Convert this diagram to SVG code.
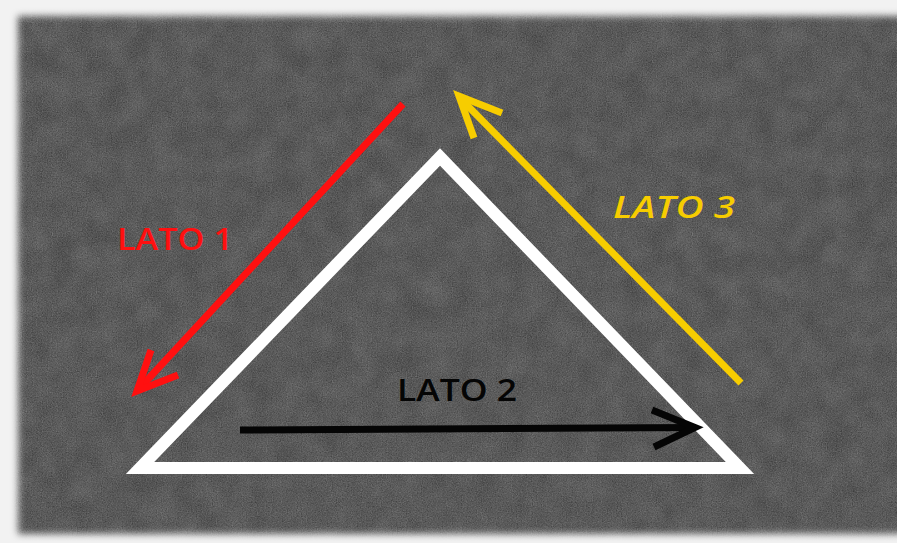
<svg xmlns="http://www.w3.org/2000/svg" width="897" height="543" viewBox="0 0 897 543">
  <style>
    .lbl { font-family: "Open Sans", "DejaVu Sans", sans-serif; font-weight: 600; font-size: 31px; }
    .arrow { fill: none; stroke-width: 7; stroke-linecap: butt; stroke-linejoin: miter; }
    filter { color-interpolation-filters: sRGB; }
  </style>
  <defs>
    <filter id="blur" x="-10%" y="-10%" width="120%" height="120%">
      <feGaussianBlur stdDeviation="3.5"/>
    </filter>
    <mask id="panelMask" maskUnits="userSpaceOnUse" x="0" y="0" width="897" height="543">
      <rect x="18" y="16" width="900" height="518" fill="#fff" filter="url(#blur)"/>
    </mask>
    <filter id="grain" x="0" y="0" width="897" height="543" filterUnits="userSpaceOnUse" color-interpolation-filters="sRGB">
      <feTurbulence type="fractalNoise" baseFrequency="0.8" numOctaves="2" seed="7" result="t"/>
      <feColorMatrix in="t" type="matrix" values="0.6 0.6 0 0 -0.28  0.6 0.6 0 0 -0.28  0.6 0.6 0 0 -0.28  0 0 0 0 0.28"/>
    </filter>
    <filter id="mottle" x="0" y="0" width="897" height="543" filterUnits="userSpaceOnUse" color-interpolation-filters="sRGB">
      <feTurbulence type="fractalNoise" baseFrequency="0.04" numOctaves="3" seed="2" result="t"/>
      <feColorMatrix in="t" type="matrix" values="0.6 0.6 0 0 -0.3  0.6 0.6 0 0 -0.3  0.6 0.6 0 0 -0.3  0 0 0 0 0.14"/>
    </filter>
  </defs>

  <rect x="0" y="0" width="897" height="543" fill="#f2f2f2"/>
  <g id="panel" mask="url(#panelMask)">
    <rect x="0" y="0" width="897" height="543" fill="#606060"/>
    <rect x="0" y="0" width="897" height="543" filter="url(#mottle)"/>
    <rect x="0" y="0" width="897" height="543" filter="url(#grain)"/>
  </g>

  <g id="triangle">
    <polygon points="440,157 140,468 740,468" fill="none" stroke="#ffffff" stroke-width="12" stroke-linejoin="miter" stroke-miterlimit="10"/>
  </g>

  <g id="connectors">
    <g id="arrow-lato1" stroke="#ff1010" class="arrow">
      <line x1="403" y1="104" x2="138" y2="390"/>
      <polyline points="151,350 137,391 178,375"/>
    </g>
    <g id="arrow-lato2" stroke="#050505" class="arrow">
      <line x1="240" y1="430" x2="694" y2="427.5"/>
      <polyline points="652,410 695,427.5 654,447"/>
    </g>
    <g id="arrow-lato3" stroke="#f7cd00" class="arrow">
      <line x1="741" y1="383" x2="460" y2="98"/>
      <polyline points="502,113 459,96 474,138"/>
    </g>
  </g>

  <g id="label-lato1">
    <text class="lbl" x="117" y="250" fill="#ff1010" textLength="116" lengthAdjust="spacingAndGlyphs">LATO 1</text>
  </g>
  <g id="label-lato2">
    <text class="lbl" x="397" y="401" fill="#050505" textLength="120" lengthAdjust="spacingAndGlyphs">LATO 2</text>
  </g>
  <g id="label-lato3">
    <text class="lbl" x="613" y="218" fill="#f7cd00" font-style="italic" textLength="122" lengthAdjust="spacingAndGlyphs">LATO 3</text>
  </g>
</svg>
